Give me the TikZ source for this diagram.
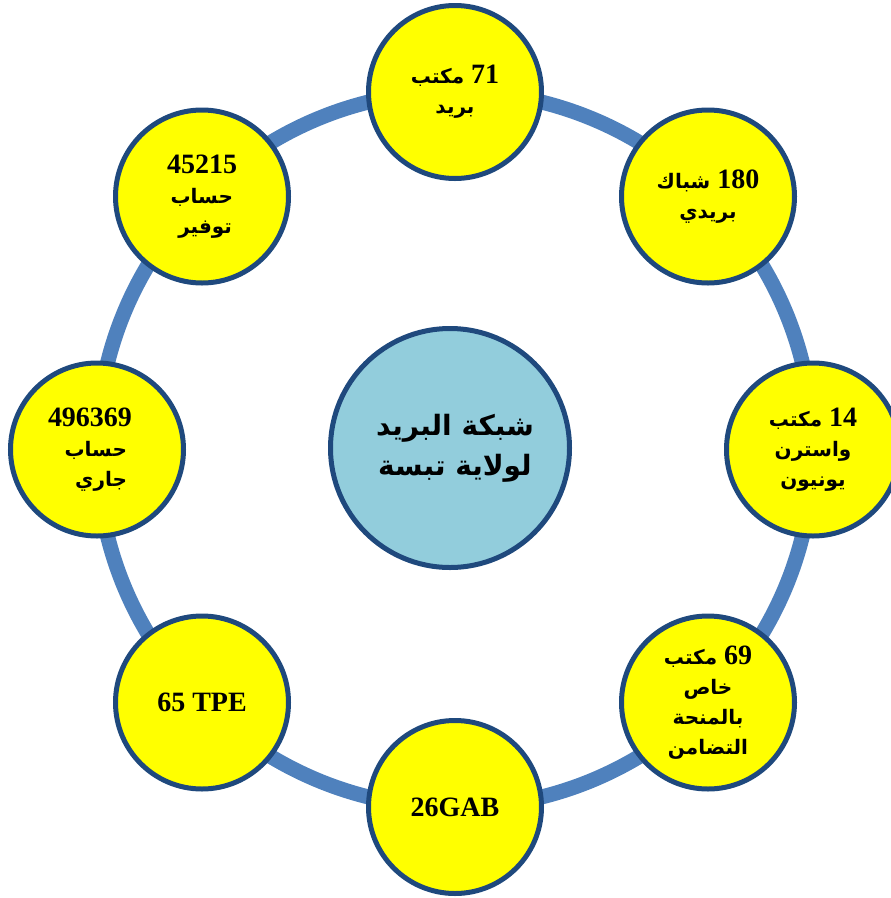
\documentclass[tikz,border=0pt]{standalone}
\usepackage{fontspec}
\setmainfont{Liberation Serif}
\newfontfamily\arabicfont[Script=Arabic]{DejaVu Sans}
\TeXXeTstate=1
\newcommand\arab{\arabicfont\bfseries\fontsize{20}{30}\selectfont}
\newcommand\arabbig{\arabicfont\bfseries\fontsize{28}{40}\selectfont}
% one boxed right-to-left word group
\newcommand\ar[1]{\mbox{\arab\beginR #1\endR}}
% the same, with a fixed gap on its right
\newcommand\arpad[2]{\mbox{\arab\beginR #2\endR\kern#1}}
\definecolor{ringblue}{HTML}{4F81BD}
\definecolor{edgeblue}{HTML}{1F497D}
\definecolor{hubblue}{HTML}{92CDDC}
\definecolor{bubble}{HTML}{FFFF00}
\tikzset{
  ring/.style={draw=ringblue, line width=15pt},
  bubblenode/.style={circle, draw=edgeblue, line width=5pt, fill=bubble,
    minimum size=173pt, inner sep=0pt, align=center,
    font=\bfseries\fontsize{28}{30}\selectfont},
  hubnode/.style={circle, draw=edgeblue, line width=5pt, fill=hubblue,
    minimum size=239pt, inner sep=0pt, align=center,
    font=\arabbig}
}
\begin{document}
\begin{tikzpicture}[x=1pt, y=-1pt]
\useasboundingbox (0,0) rectangle (891,898);
\coordinate (ctr) at (455,449.5);
% the ring that links the offices
\draw[ring] (ctr) circle (358);
% hub
\node[hubnode] (hub) at (450,448)
  {\mbox{\kern10pt\beginR شبكة البريد\endR}\\\mbox{\kern10pt\beginR لولاية تبسة\endR}};
% surrounding figures
\node[bubblenode] (n1) at (455,92)
  {\mbox{\beginR\beginL 71\endL\ {\arab مكتب}\endR}\\\ar{بريد}};
\node[bubblenode] (n2) at (708,196.5)
  {\mbox{\beginR\beginL 180\endL\ {\arab شباك}\endR}\\\ar{بريدي}};
\node[bubblenode] (n3) at (813,449.5)
  {\mbox{\beginR\beginL 14\endL\ {\arab مكتب}\endR}\\\ar{واسترن}\\\ar{يونيون}};
\node[bubblenode] (n4) at (708,702.5)
  {\mbox{\beginR\beginL 69\endL\ {\arab مكتب}\endR}\\\ar{خاص}\\\ar{بالمنحة}\\\ar{التضامن}};
\node[bubblenode] (n5) at (455,807) {26GAB};
\node[bubblenode] (n6) at (202,702.5) {65 TPE};
\node[bubblenode, align=right] (n7) at (97,449.5)
  {\mbox{496369\kern14pt}\\\arpad{19pt}{حساب}\\\arpad{19pt}{جاري}};
\node[bubblenode, align=right] (n8) at (202,196.5)
  {45215\\\arpad{4pt}{حساب}\\\arpad{5pt}{توفير}};
\end{tikzpicture}
\end{document}
